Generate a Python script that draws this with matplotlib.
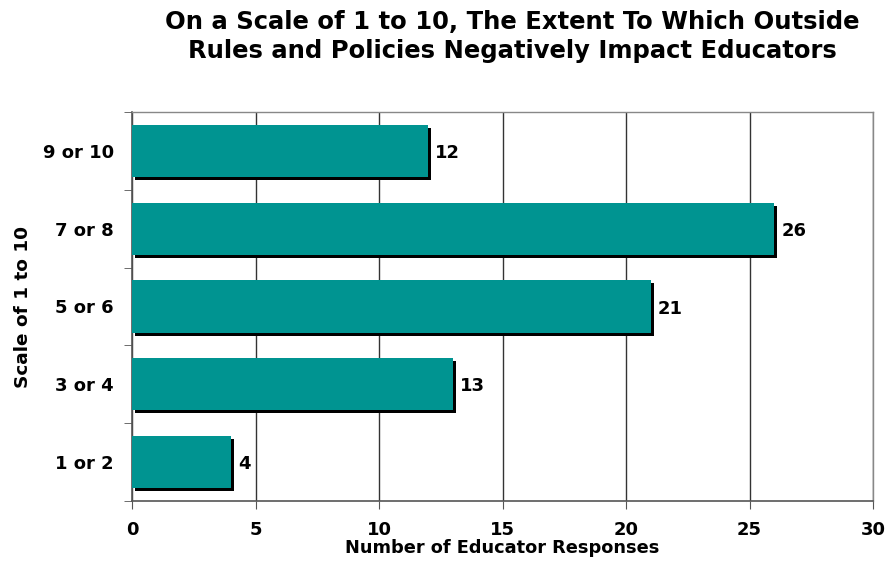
import matplotlib
matplotlib.use("Agg")
import matplotlib.pyplot as plt
import matplotlib.patheffects as pe

categories = ["1 or 2", "3 or 4", "5 or 6", "7 or 8", "9 or 10"]
values = [4, 13, 21, 26, 12]
xticks = [0, 5, 10, 15, 20, 25, 30]

plt.rcParams['font.family'] = ['DejaVu Sans']
fig = plt.figure(figsize=(8.88, 5.70), dpi=100)
ax = fig.add_axes([132/888, 1-501/570, (873-132)/888, (501-112)/570])

bars = ax.barh(range(len(categories)), values, height=0.67, color='#009491',
               zorder=3,
               path_effects=[pe.SimplePatchShadow(offset=(2.2, -2.2), shadow_rgbFace='black', alpha=1.0),
                             pe.Normal()])

for i, v in enumerate(values):
    ax.annotate(str(v), xy=(v, i), xytext=(5, -1.5), textcoords='offset points',
                ha='left', va='center', fontsize=13, fontweight='bold', zorder=4)

ax.set_xlim(0, 30)
ax.set_ylim(-0.5, len(categories) - 0.5)
ax.set_xticks(xticks)
ax.set_xticklabels([str(t) for t in xticks], fontsize=13, fontweight='bold')
ax.set_yticks(range(len(categories)))
ax.set_yticklabels(categories, fontsize=13, fontweight='bold')
ax.set_yticks([i + 0.5 for i in range(-1, len(categories))], minor=True)
ax.tick_params(axis='y', which='major', length=0, pad=13)
ax.tick_params(axis='y', which='minor', length=6, color='#555555', direction='out')
ax.tick_params(axis='x', length=6, color='#555555', direction='out', pad=8.5)

ax.grid(axis='x', color='#333333', linewidth=1.0, zorder=0)
for s in ['left', 'bottom']:
    ax.spines[s].set_color('#555555')
    ax.spines[s].set_linewidth(1.2)
for s in ['top', 'right']:
    ax.spines[s].set_color('#888888')
    ax.spines[s].set_linewidth(1.0)

ax.set_xlabel("Number of Educator Responses", fontsize=12.8, fontweight='bold', labelpad=0)
ax.set_ylabel("Scale of 1 to 10", fontsize=13.3, fontweight='bold', labelpad=8)
fig.text(512/888, 1-10/570,
         "On a Scale of 1 to 10, The Extent To Which Outside\nRules and Policies Negatively Impact Educators",
         ha='center', va='top', fontsize=17.5, fontweight='bold', linespacing=1.25)

fig.savefig("out.png", dpi=100)
